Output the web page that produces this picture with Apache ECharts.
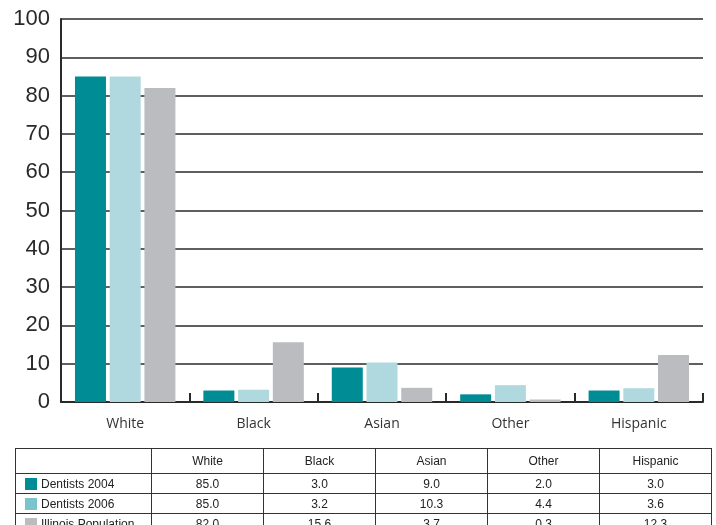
<!DOCTYPE html>
<html>
<head>
<meta charset="utf-8">
<script src="https://cdn.jsdelivr.net/npm/echarts@6/dist/echarts.min.js"></script>
<style>
html, body { margin: 0; padding: 0; background: #fff; }
#wrap { position: relative; width: 716px; height: 525px; overflow: hidden; }
#chart { position: absolute; left: 0; top: 0; width: 716px; height: 525px; }
#tbl {
  position: absolute; left: 15px; top: 448px;
  border-collapse: collapse;
  font-family: "Liberation Sans", Arial, sans-serif; font-size: 12px; color: #222;
}
#tbl td { border: 1px solid #333; padding: 0; text-align: center; height: 19px; width: 111px; }
#tbl tr:first-child td { height: 24px; }
#tbl td.name { width: 136px; text-align: left; padding-left: 9px; box-sizing: border-box; white-space: nowrap; }
#tbl .sw { display: inline-block; width: 12px; height: 12px; vertical-align: -2px; margin-right: 4px; }
</style>
</head>
<body>
<div id="wrap">
  <div id="chart"></div>
  <table id="tbl"></table>
</div>
<script>
// categories and series
const categories = ['White', 'Black', 'Asian', 'Other', 'Hispanic'];
const seriesNames = ['Dentists 2004', 'Dentists 2006', 'Illinois Population'];
const dentists2004 = [85.0, 3.0, 9.0, 2.0, 3.0];
const dentists2006 = [85.0, 3.2, 10.3, 4.4, 3.6];
const illinoisPop = [82.0, 15.6, 3.7, 0.3, 12.3];

const barColors = ['#008c95', '#b0d9df', '#bbbcc0'];
const swatchColors = ['#008c95', '#7cc3cc', '#bbbcc0'];
const allData = [dentists2004, dentists2006, illinoisPop];

const chart = echarts.init(document.getElementById('chart'));

chart.setOption({
  animation: false,
  grid: { left: 61, right: 13, top: 19, bottom: 123 },
  xAxis: {
    type: 'category',
    data: categories,
    axisLine: { lineStyle: { color: '#2a2a2a', width: 2 } },
    axisTick: { show: true, inside: true, length: 9, lineStyle: { color: '#2a2a2a', width: 2 } },
    axisLabel: { color: '#333', fontSize: 14, fontFamily: 'Open Sans', margin: 15 }
  },
  yAxis: {
    type: 'value',
    min: 0,
    max: 100,
    interval: 10,
    axisLine: { show: true, lineStyle: { color: '#2a2a2a', width: 2 } },
    axisTick: { show: false },
    axisLabel: { color: '#2b2829', fontSize: 22, fontFamily: 'Liberation Sans', margin: 11 },
    splitLine: { lineStyle: { color: '#2a2a2a', width: 1.6 } }
  },
  series: allData.map(function (d, i) {
    return {
      name: seriesNames[i],
      type: 'bar',
      data: d,
      barWidth: 31,
      barGap: '12%',
      barMinHeight: 2.5,
      itemStyle: { color: barColors[i] }
    };
  })
});

// data table under the chart
const tbl = document.getElementById('tbl');
let html = '<tr><td class="name"></td>' + categories.map(c => '<td>' + c + '</td>').join('') + '</tr>';
allData.forEach(function (d, i) {
  html += '<tr><td class="name"><span class="sw" style="background:' + swatchColors[i] + '"></span>' +
    seriesNames[i] + '</td>' + d.map(v => '<td>' + v.toFixed(1) + '</td>').join('') + '</tr>';
});
tbl.innerHTML = html;
</script>
</body>
</html>
